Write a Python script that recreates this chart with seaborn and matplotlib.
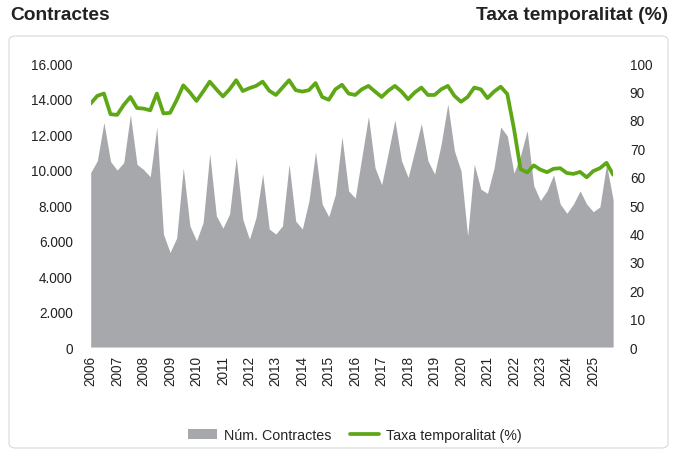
import matplotlib
matplotlib.use("Agg")
import matplotlib.pyplot as plt
from matplotlib.patches import FancyBboxPatch, Patch
from matplotlib.lines import Line2D
from matplotlib.ticker import FuncFormatter
import numpy as np
import pandas as pd
import seaborn as sns

# quarterly series, 2006 Q1 .. 2025 Q4
years = list(range(2006, 2026))
contractes = [
    9840, 10500, 12660, 10460, 9970, 10400, 13100, 10300,
    10000, 9600, 12400, 6370, 5330, 6150, 10100, 6830,
    5990, 7020, 10900, 7400, 6700, 7500, 10700, 7200,
    6080, 7300, 9750, 6650, 6370, 6830, 10300, 7100,
    6650, 8240, 11000, 8060, 7350, 8600, 11850, 8800,
    8400, 10700, 13000, 10100, 9150, 10970, 12800, 10500,
    9560, 11060, 12600, 10500, 9750, 11440, 13700, 11060,
    9930, 6270, 10300, 8900, 8660, 10100, 12400, 11900,
    9800, 10800, 12200, 9100, 8260, 8800, 9700, 8060,
    7540, 8060, 8800, 8060, 7630, 7900, 10300, 8300,
]
taxa = [
    85.8, 88.5, 89.3, 82.0, 81.8, 85.3, 88.1, 84.2,
    84.0, 83.4, 89.3, 82.3, 82.5, 87.0, 92.2, 89.7,
    86.7, 90.0, 93.5, 90.8, 88.3, 90.8, 94.0, 90.2,
    91.2, 92.0, 93.5, 90.3, 88.8, 91.4, 94.0, 90.5,
    90.0, 90.5, 93.0, 88.1, 87.1, 90.8, 92.4, 89.3,
    88.8, 90.8, 92.0, 90.0, 88.1, 90.3, 92.0, 90.0,
    87.3, 89.7, 91.4, 88.8, 88.8, 90.8, 92.0, 88.5,
    86.4, 88.1, 91.4, 90.8, 87.7, 90.0, 91.7, 89.1,
    77.0, 62.7, 61.5, 64.0, 62.5, 61.6, 62.8, 63.0,
    61.3, 61.0, 61.7, 59.8, 62.0, 63.0, 64.9, 60.7,
]

GREY = "#A7A8AC"
GREEN = "#5EA816"

df = pd.DataFrame({"t": np.arange(len(contractes)),
                   "contractes": contractes, "taxa": taxa})

sns.set_theme(style="white")
plt.rcParams["font.family"] = ["Liberation Sans", "DejaVu Sans"]

fig = plt.figure(figsize=(6.82, 4.52), dpi=100)
ax = fig.add_axes([0.133, 0.230, 0.766, 0.628])
ax2 = ax.twinx()

ax.fill_between(df["t"], 0, df["contractes"], color=GREY, lw=0)
sns.lineplot(data=df, x="t", y="taxa", ax=ax2, color=GREEN, linewidth=2.7)

ax.set_xlim(0, len(contractes) - 1)
ax.set_ylim(0, 16000)
ax.set_yticks(range(0, 16001, 2000))
ax.yaxis.set_major_formatter(FuncFormatter(lambda v, p: f"{int(v):,}".replace(",", ".")))
ax.set_xticks([4 * i for i in range(len(years))])
ax.set_xticklabels([str(y) for y in years], rotation=90)
ax2.set_ylim(0, 100)
ax2.set_yticks(range(0, 101, 10))

for a in (ax, ax2):
    for s in a.spines.values():
        s.set_visible(False)
    a.set_xlabel("")
    a.set_ylabel("")
    a.grid(False)
ax.tick_params(axis="y", length=0, pad=13, labelsize=9.8, colors="#222222")
ax.tick_params(axis="x", length=0, pad=6, labelsize=9.8, colors="#222222")
ax2.tick_params(axis="y", length=0, pad=12, labelsize=9.8, colors="#222222")

fig.text(10 / 682, 1 - 16 / 452, "Contractes", fontsize=13.8, fontweight="bold",
         va="center", ha="left", color="#222222")
fig.text(668 / 682, 1 - 16 / 452, "Taxa temporalitat (%)", fontsize=13.8,
         fontweight="bold", va="center", ha="right", color="#222222")

frame = FancyBboxPatch((9 / 682, 3 / 452), 659 / 682, 412 / 452,
                       boxstyle="round,pad=0,rounding_size=0.01",
                       transform=fig.transFigure, fill=False,
                       edgecolor="#D9D9D9", linewidth=0.8)
fig.patches.append(frame)

handles = [Patch(facecolor=GREY, edgecolor="none"),
           Line2D([0], [0], color=GREEN, lw=2.7)]
fig.legend(handles, ["Núm. Contractes", "Taxa temporalitat (%)"],
           loc="center", bbox_to_anchor=(355 / 682, 1 - 436 / 452), ncol=2,
           frameon=False, fontsize=10.3, handlelength=2.0, columnspacing=1.3,
           handletextpad=0.5)

fig.savefig("out.png", dpi=100)
